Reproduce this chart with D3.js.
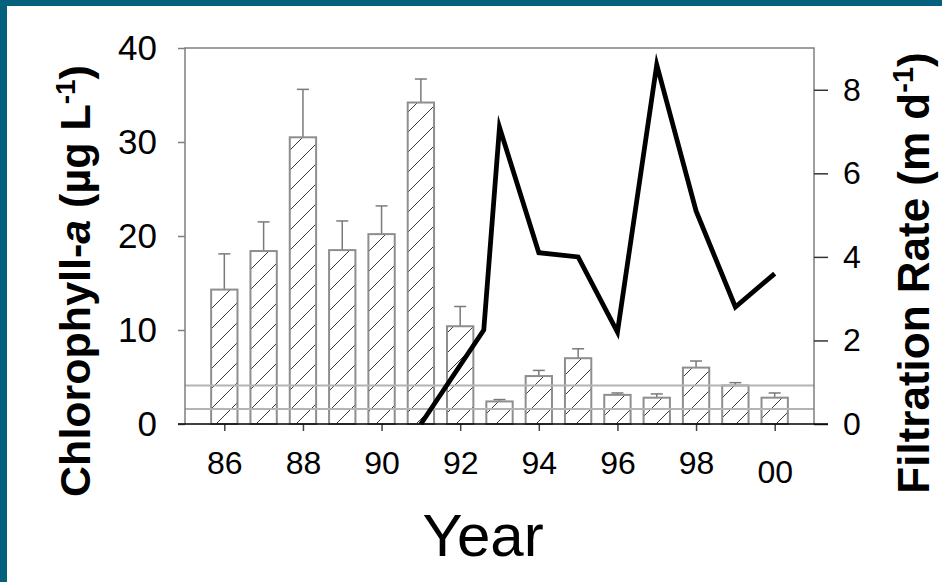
<!DOCTYPE html>
<html>
<head>
<meta charset="utf-8">
<script src="https://cdn.jsdelivr.net/npm/d3@7"></script>
<style>
  html, body { margin: 0; padding: 0; background: #fff; }
  svg { display: block; }
  text { font-family: "Liberation Sans", Arial, sans-serif; fill: #000; }
</style>
</head>
<body>
<svg id="chart" width="942" height="582"></svg>
<script>
// Annual mean chlorophyll-a (bars, left axis) with upper error bars
const years = [86, 87, 88, 89, 90, 91, 92, 93, 94, 95, 96, 97, 98, 99, 100];
const chlorophyll = [14.3, 18.4, 30.5, 18.5, 20.2, 34.2, 10.4, 2.4, 5.1, 7.0, 3.1, 2.8, 6.0, 4.1, 2.8];
const chlorophyllErr = [3.8, 3.1, 5.1, 3.1, 3.0, 2.5, 2.1, 0.2, 0.6, 1.0, 0.2, 0.4, 0.7, 0.3, 0.5];

// Filtration rate (line, right axis)
const filtrationYears = [91, 92.6, 93, 94, 95, 96, 97, 98, 99, 100];
const filtrationRate = [0, 2.25, 7.1, 4.1, 4.0, 2.2, 8.6, 5.1, 2.8, 3.6];

// Horizontal reference levels (chlorophyll-a units)
const referenceLevels = [4.1, 1.6];

// Axis ticks
const yearTicks = [86, 88, 90, 92, 94, 96, 98, 100];
const yearTickLabels = ["86", "88", "90", "92", "94", "96", "98", "00"];
const chlTicks = [0, 10, 20, 30, 40];
const rateTicks = [0, 2, 4, 6, 8];

const svg = d3.select("#chart");
const W = 942, H = 582;
const plot = { left: 185, right: 814, top: 48, bottom: 424 };

svg.append("rect").attr("width", W).attr("height", H).attr("fill", "#fff");
// slide frame strips
svg.append("rect").attr("x", 0).attr("y", 0).attr("width", W).attr("height", 6).attr("fill", "#04617e");
svg.append("rect").attr("x", 0).attr("y", 0).attr("width", 7).attr("height", H).attr("fill", "#04617e");

const x = d3.scaleLinear().domain([85, 101]).range([plot.left, plot.right]);
const yL = d3.scaleLinear().domain([0, 40]).range([plot.bottom, plot.top]);
const yR = d3.scaleLinear().domain([0, 9]).range([plot.bottom, plot.top]);

// diagonal hatch for the bars
const defs = svg.append("defs");
const hatch = defs.append("pattern")
  .attr("id", "hatch")
  .attr("patternUnits", "userSpaceOnUse")
  .attr("width", 20).attr("height", 20);
hatch.append("rect").attr("width", 20).attr("height", 20).attr("fill", "#fff");
hatch.append("path")
  .attr("d", "M0,20 L20,0 M-5,5 L5,-5 M15,25 L25,15")
  .attr("stroke", "#3a3a3a").attr("stroke-width", 1);

const step = x(1) - x(0);
const barW = step * 0.67;

const bars = years.map((yr, i) => ({ yr, v: chlorophyll[i], e: chlorophyllErr[i] }));

// error bars (drawn first so the bar outline sits on top)
const eg = svg.append("g").attr("stroke", "#7a7a7a").attr("stroke-width", 1.5);
bars.forEach(d => {
  eg.append("line")
    .attr("x1", x(d.yr)).attr("x2", x(d.yr))
    .attr("y1", yL(d.v)).attr("y2", yL(d.v + d.e));
  eg.append("line")
    .attr("x1", x(d.yr) - 6).attr("x2", x(d.yr) + 6)
    .attr("y1", yL(d.v + d.e)).attr("y2", yL(d.v + d.e));
});

svg.append("g").selectAll("rect").data(bars).join("rect")
  .attr("x", d => x(d.yr) - barW / 2)
  .attr("y", d => yL(d.v))
  .attr("width", barW)
  .attr("height", d => yL(0) - yL(d.v))
  .attr("fill", "url(#hatch)")
  .attr("stroke", "#8e8e8e")
  .attr("stroke-width", 2);

// reference levels
svg.append("g").selectAll("line").data(referenceLevels).join("line")
  .attr("x1", plot.left).attr("x2", plot.right)
  .attr("y1", d => yL(d)).attr("y2", d => yL(d))
  .attr("stroke", "#b4b4b4").attr("stroke-width", 2);

// filtration rate line
const lineData = filtrationYears.map((yr, i) => [yr, filtrationRate[i]]);
svg.append("path")
  .datum(lineData)
  .attr("d", d3.line().x(d => x(d[0])).y(d => yR(d[1])))
  .attr("fill", "none")
  .attr("stroke", "#000")
  .attr("stroke-width", 4.8)
  .attr("stroke-linejoin", "miter")
  .attr("stroke-miterlimit", 10);

// frame: top, left, right
svg.append("path")
  .attr("d", `M${plot.left},${plot.bottom} V${plot.top} H${plot.right} V${plot.bottom}`)
  .attr("fill", "none").attr("stroke", "#7f7f7f").attr("stroke-width", 1.5);

// left axis
const leftAxis = svg.append("g")
  .attr("transform", `translate(${plot.left},0)`)
  .call(d3.axisLeft(yL).tickValues(chlTicks).tickSize(7).tickPadding(21).tickFormat(d3.format("d")));
leftAxis.select(".domain").remove();
leftAxis.selectAll(".tick line").attr("stroke", "#7f7f7f").attr("stroke-width", 1.5);
leftAxis.selectAll(".tick text")
  .style("font-size", "35px").style("font-family", "Liberation Sans, Arial, sans-serif");

// right axis
const rightAxis = svg.append("g")
  .attr("transform", `translate(${plot.right},0)`)
  .call(d3.axisRight(yR).tickValues(rateTicks).tickSize(14).tickPadding(15).tickFormat(d3.format("d")));
rightAxis.select(".domain").remove();
rightAxis.selectAll(".tick line").attr("stroke", "#333").attr("stroke-width", 1.5);
rightAxis.selectAll(".tick text")
  .style("font-size", "32px").style("font-family", "Liberation Sans, Arial, sans-serif");

// bottom axis
const bottomAxis = svg.append("g")
  .attr("transform", `translate(0,${plot.bottom})`)
  .call(d3.axisBottom(x).tickValues(yearTicks).tickSize(7).tickPadding(20)
    .tickFormat((d, i) => yearTickLabels[i]));
bottomAxis.select(".domain").remove();
bottomAxis.selectAll(".tick line").attr("stroke", "#444").attr("stroke-width", 1.5);
bottomAxis.selectAll(".tick text")
  .style("font-size", "32px").style("font-family", "Liberation Sans, Arial, sans-serif")
  .attr("dy", (d, i) => i === yearTicks.length - 1 ? "1.0em" : "0.71em");

// baseline
svg.append("line")
  .attr("x1", plot.left - 7).attr("x2", plot.right + 14)
  .attr("y1", plot.bottom).attr("y2", plot.bottom)
  .attr("stroke", "#000").attr("stroke-width", 1.5);

// axis titles
const leftTitle = svg.append("text")
  .attr("transform", `translate(90,281) rotate(-90)`)
  .attr("text-anchor", "middle")
  .style("font-size", "43px").style("font-weight", "bold");
leftTitle.append("tspan").text("Chlorophyll-");
leftTitle.append("tspan").style("font-style", "italic").text("a");
leftTitle.append("tspan").text(" (\u00b5g L");
leftTitle.append("tspan").attr("dy", -15).style("font-size", "28px").text("-1");
leftTitle.append("tspan").attr("dy", 15).text(")");

const rightTitle = svg.append("text")
  .attr("transform", `translate(929,273) rotate(-90)`)
  .attr("text-anchor", "middle")
  .style("font-size", "44px").style("font-weight", "bold");
rightTitle.append("tspan").text("Filtration Rate (m d");
rightTitle.append("tspan").attr("dy", -16).style("font-size", "29px").text("-1");
rightTitle.append("tspan").attr("dy", 16).text(")");

svg.append("text")
  .attr("x", 483).attr("y", 556)
  .attr("text-anchor", "middle")
  .style("font-size", "60px")
  .text("Year");
</script>
</body>
</html>
